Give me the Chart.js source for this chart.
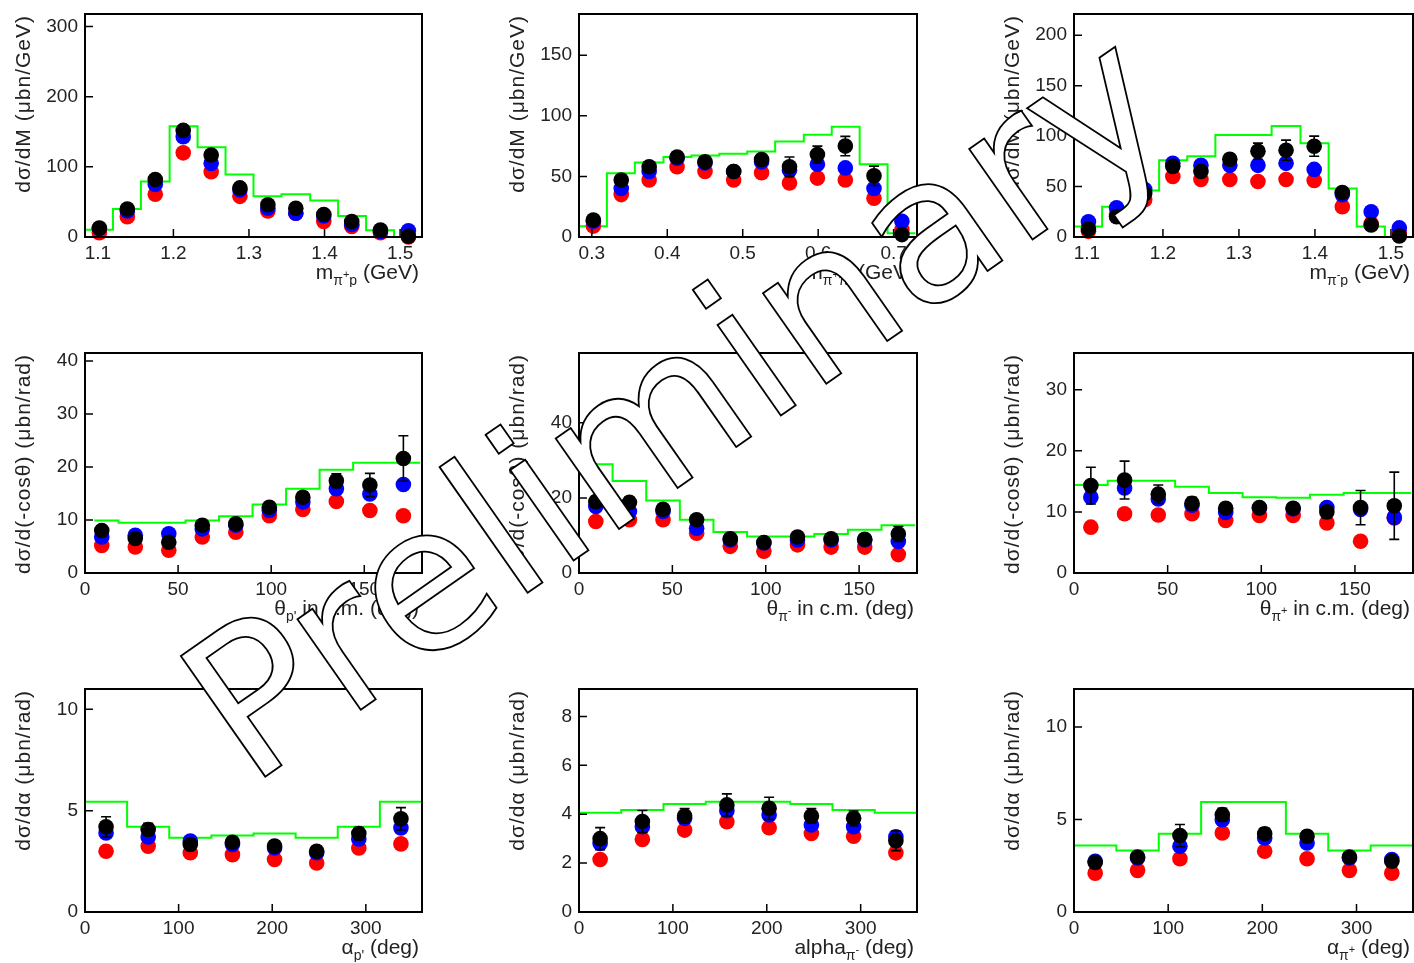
<!DOCTYPE html>
<html>
<head>
<meta charset="utf-8">
<script src="https://cdn.jsdelivr.net/npm/chart.js@4.4.1/dist/chart.umd.min.js"></script>
<style>
  html, body { margin: 0; padding: 0; background: #fff; overflow: hidden; }
  #page { position: relative; width: 1414px; height: 963px; }
  #page canvas { position: absolute; }
  #stamp { position: absolute; left: 0; top: 0; pointer-events: none; }
</style>
</head>
<body>
<div id="page"></div>
<svg id="stamp" width="1414" height="963">
  <text x="249" y="788" transform="rotate(-35 249 788)" font-family="DejaVu Sans, Verdana, sans-serif"
        font-size="202" fill="#fff" stroke="#000" stroke-width="1.8">Preliminary</text>
</svg>
<script>
// ---- binning ----
const massEdges = [1.083, 1.120, 1.157, 1.195, 1.232, 1.269, 1.306, 1.343, 1.381, 1.418, 1.455, 1.492, 1.529];
const massBins  = [1.102, 1.139, 1.176, 1.213, 1.250, 1.288, 1.325, 1.362, 1.399, 1.436, 1.474, 1.511];
const pipiEdges = [0.283, 0.320, 0.357, 0.395, 0.432, 0.469, 0.506, 0.543, 0.581, 0.618, 0.655, 0.692, 0.729];
const pipiBins  = [0.302, 0.339, 0.376, 0.413, 0.450, 0.488, 0.525, 0.562, 0.599, 0.636, 0.674, 0.711];
const thetaEdges = [0, 18, 36, 54, 72, 90, 108, 126, 144, 162, 180];
const thetaEdgesLate = [5, 18, 36, 54, 72, 90, 108, 126, 144, 162, 180]; // curve drawn from 5 deg
const thetaBins  = [9, 27, 45, 63, 81, 99, 117, 135, 153, 171];
const alphaEdges = [0, 45, 90, 135, 180, 225, 270, 315, 360];
const alphaBins  = [22.5, 67.5, 112.5, 157.5, 202.5, 247.5, 292.5, 337.5];

// ---- m(pi+ p) ----
const mPipP_sim   = [10.4, 40, 79, 158, 128, 89, 58, 61, 52, 30, 9.5, 0];
const mPipP_red   = [6, 29, 61, 120, 93, 58, 37, 34, 22, 15, 6, 0];
const mPipP_blue  = [12, 37, 75, 143, 105, 67, 41, 34, 30, 18, 8, 9];
const mPipP_black = [12.8, 40, 82, 152, 117, 70, 46, 41, 32, 22, 10, 1];
const mPipP_err   = [4, 4, 5, 7, 6, 5, 4, 4, 4, 3, 3, 2];

// ---- m(pi+ pi-) ----
const mPiPi_sim   = [8.8, 52.7, 61.5, 66, 67.3, 68.7, 70.6, 78.8, 84.3, 91, 60, 3];
const mPiPi_red   = [9, 35, 47, 58, 54, 47, 53, 44.5, 48.6, 47, 32, 6];
const mPiPi_blue  = [13, 40, 54, 65, 61, 54, 62, 55, 60, 57, 40, 13];
const mPiPi_black = [14, 47, 58, 66, 62, 54, 64, 58, 68, 75, 50.5, 2];
const mPiPi_err   = [3, 3, 3, 3, 3, 3, 4, 8, 7, 8, 8, 3];

// ---- m(pi- p) ----
const mPimP_sim   = [10.5, 30, 46, 76, 80, 101, 101, 110, 93, 48, 10.5, 0];
const mPimP_red   = [5.6, 22, 37, 60, 57, 57, 55, 57, 56, 30, 13, 4];
const mPimP_blue  = [15, 29, 47, 73, 71, 71, 71, 73, 67, 42, 25, 9];
const mPimP_black = [8, 20, 43, 70, 65, 77, 85, 86, 90, 44, 12, 1];
const mPimP_err   = [3, 3, 4, 5, 5, 5, 8, 10, 10, 5, 3, 2];

// ---- theta p' ----
const thP_sim   = [9.9, 9.5, 9.5, 9.9, 10.7, 12.9, 15.9, 19.5, 20.8, 20.8];
const thP_red   = [5.2, 4.9, 4.3, 6.8, 7.7, 10.8, 12, 13.5, 11.8, 10.8];
const thP_blue  = [6.8, 7.1, 7.4, 8.3, 9, 11.8, 13.4, 15.9, 14.9, 16.7];
const thP_black = [8, 6.5, 5.8, 9, 9.3, 12.4, 14.3, 17.4, 16.6, 21.6];
const thP_err   = [0.8, 0.8, 0.8, 0.8, 0.8, 0.9, 1, 1.3, 2.2, 4.3];

// ---- theta pi- ----
const thPim_sim   = [29, 24.5, 19.3, 14.2, 10.9, 9.7, 9.7, 10.4, 11.5, 12.7];
const thPim_red   = [13.7, 14.2, 14.2, 10.6, 7.1, 5.8, 7.5, 6.9, 6.9, 4.9];
const thPim_blue  = [17.7, 16.4, 16.4, 11.9, 8.8, 8, 8.8, 8.8, 8.8, 8.4];
const thPim_black = [19, 18.8, 17, 14.2, 9.1, 8.1, 9.6, 9.1, 9, 10.4];
const thPim_err   = [1.5, 1.5, 1.2, 1, 0.8, 0.8, 0.8, 0.8, 0.9, 2];

// ---- theta pi+ ----
const thPip_sim   = [14.4, 15.1, 15.1, 14.1, 13.1, 12.4, 12.3, 12.8, 13.1, 13.1];
const thPip_red   = [7.5, 9.7, 9.5, 9.7, 8.6, 9.4, 9.4, 8.2, 5.2, 9];
const thPip_blue  = [12.4, 13.9, 12.1, 11.1, 9.9, 10.6, 10.5, 10.7, 10.4, 9.1];
const thPip_black = [14.3, 15.2, 12.9, 11.4, 10.6, 10.7, 10.6, 10, 10.7, 11];
const thPip_err   = [3, 3.1, 1.5, 1, 0.8, 0.8, 0.8, 1, 2.8, 5.5];

// ---- alpha p' ----
const alP_sim   = [5.44, 4.2, 3.66, 3.77, 3.87, 3.66, 4.2, 5.44];
const alP_red   = [3.0, 3.25, 2.92, 2.83, 2.59, 2.42, 3.16, 3.36];
const alP_blue  = [3.9, 3.7, 3.5, 3.33, 3.16, 2.92, 3.6, 4.15];
const alP_black = [4.2, 4.07, 3.33, 3.44, 3.25, 3.0, 3.87, 4.6];
const alP_err   = [0.5, 0.3, 0.25, 0.25, 0.25, 0.25, 0.3, 0.55];

// ---- alpha pi- ----
const alPim_sim   = [4.06, 4.17, 4.42, 4.51, 4.51, 4.42, 4.17, 4.06];
const alPim_red   = [2.15, 2.97, 3.35, 3.69, 3.45, 3.21, 3.1, 2.42];
const alPim_blue  = [2.8, 3.49, 3.83, 4.14, 3.97, 3.56, 3.49, 3.08];
const alPim_black = [3.0, 3.7, 3.93, 4.38, 4.24, 3.93, 3.83, 2.91];
const alPim_err   = [0.45, 0.45, 0.3, 0.45, 0.45, 0.3, 0.3, 0.4];

// ---- alpha pi+ ----
const alPip_sim   = [3.59, 3.32, 4.23, 5.95, 5.95, 4.23, 3.32, 3.59];
const alPip_red   = [2.1, 2.25, 2.88, 4.27, 3.28, 2.88, 2.25, 2.1];
const alPip_blue  = [2.74, 2.92, 3.55, 4.99, 4.0, 3.73, 2.92, 2.83];
const alPip_black = [2.68, 2.97, 4.13, 5.26, 4.23, 4.09, 2.97, 2.74];
const alPip_err   = [0.3, 0.25, 0.6, 0.35, 0.3, 0.3, 0.25, 0.3];

// frame boxes of the 3x3 grid (px)
const colLeft  = [85, 579, 1074];
const colRight = [422, 917, 1413];
const rowTop    = [14, 353, 689];
const rowBottom = [237, 573, 912];

const FONT = 'Liberation Sans, Arial, Helvetica, sans-serif';
Chart.defaults.font.family = FONT;

const panels = [
  { col: 0, row: 0, edges: massEdges, bins: massBins, sim: mPipP_sim, red: mPipP_red, blue: mPipP_blue, black: mPipP_black, err: mPipP_err,
    xMin: 1.083, xMax: 1.529, xStep: 0.1, yMax: 318, yStep: 100,
    yTitle: 'dσ/dM (μbn/GeV)', xTitle: [['m', 0], ['π', 1], ['+', 2], ['p', 1], [' (GeV)', 0]] },
  { col: 1, row: 0, edges: pipiEdges, bins: pipiBins, sim: mPiPi_sim, red: mPiPi_red, blue: mPiPi_blue, black: mPiPi_black, err: mPiPi_err,
    xMin: 0.283, xMax: 0.731, xStep: 0.1, yMax: 184, yStep: 50,
    yTitle: 'dσ/dM (μbn/GeV)', xTitle: [['m', 0], ['π', 1], ['+', 2], ['π', 1], ['-', 2], [' (GeV)', 0]] },
  { col: 2, row: 0, edges: massEdges, bins: massBins, sim: mPimP_sim, red: mPimP_red, blue: mPimP_blue, black: mPimP_black, err: mPimP_err,
    xMin: 1.083, xMax: 1.529, xStep: 0.1, yMax: 221, yStep: 50,
    yTitle: 'dσ/dM (μbn/GeV)', xTitle: [['m', 0], ['π', 1], ['-', 2], ['p', 1], [' (GeV)', 0]] },
  { col: 0, row: 1, edges: thetaEdgesLate, bins: thetaBins, sim: thP_sim, red: thP_red, blue: thP_blue, black: thP_black, err: thP_err,
    xMin: 0, xMax: 181, xStep: 50, yMax: 41.5, yStep: 10,
    yTitle: 'dσ/d(-cosθ) (μbn/rad)', xTitle: [['θ', 0], ["p'", 1], [' in c.m. (deg)', 0]] },
  { col: 1, row: 1, edges: thetaEdgesLate, bins: thetaBins, sim: thPim_sim, red: thPim_red, blue: thPim_blue, black: thPim_black, err: thPim_err,
    xMin: 0, xMax: 181, xStep: 50, yMax: 58.6, yStep: 20,
    yTitle: 'dσ/d(-cosθ) (μbn/rad)', xTitle: [['θ', 0], ['π', 1], ['-', 2], [' in c.m. (deg)', 0]] },
  { col: 2, row: 1, edges: thetaEdges, bins: thetaBins, sim: thPip_sim, red: thPip_red, blue: thPip_blue, black: thPip_black, err: thPip_err,
    xMin: 0, xMax: 181, xStep: 50, yMax: 36, yStep: 10,
    yTitle: 'dσ/d(-cosθ) (μbn/rad)', xTitle: [['θ', 0], ['π', 1], ['+', 2], [' in c.m. (deg)', 0]] },
  { col: 0, row: 2, edges: alphaEdges, bins: alphaBins, sim: alP_sim, red: alP_red, blue: alP_blue, black: alP_black, err: alP_err,
    xMin: 0, xMax: 360, xStep: 100, yMax: 11.0, yStep: 5,
    yTitle: 'dσ/dα (μbn/rad)', xTitle: [['α', 0], ["p'", 1], [' (deg)', 0]] },
  { col: 1, row: 2, edges: alphaEdges, bins: alphaBins, sim: alPim_sim, red: alPim_red, blue: alPim_blue, black: alPim_black, err: alPim_err,
    xMin: 0, xMax: 360, xStep: 100, yMax: 9.12, yStep: 2,
    yTitle: 'dσ/dα (μbn/rad)', xTitle: [['alpha', 0], ['π', 1], ['-', 2], [' (deg)', 0]] },
  { col: 2, row: 2, edges: alphaEdges, bins: alphaBins, sim: alPip_sim, red: alPip_red, blue: alPip_blue, black: alPip_black, err: alPip_err,
    xMin: 0, xMax: 360, xStep: 100, yMax: 12.05, yStep: 5,
    yTitle: 'dσ/dα (μbn/rad)', xTitle: [['α', 0], ['π', 1], ['+', 2], [' (deg)', 0]] }
];

const Y_AXIS_W = 85, X_AXIS_H = 50, PAD_TOP = 14, PAD_RIGHT = 2;
const segFont = [21, 14, 11];
const segDy = [0, 6, -1];

// frame, inner ticks, error bars and axis titles in ROOT style
function rootPlugin(p) {
  return {
    id: 'rootStyle',
    afterDatasetsDraw(chart) {
      const ctx = chart.ctx, xs = chart.scales.x, ys = chart.scales.y;
      ctx.save();
      ctx.strokeStyle = '#000';
      ctx.lineWidth = 1.6;
      p.bins.forEach((b, i) => {
        const x = xs.getPixelForValue(b);
        const y1 = ys.getPixelForValue(p.black[i] + p.err[i]);
        const y2 = ys.getPixelForValue(Math.max(0, p.black[i] - p.err[i]));
        ctx.beginPath();
        ctx.moveTo(x, y1); ctx.lineTo(x, y2);
        ctx.moveTo(x - 5, y1); ctx.lineTo(x + 5, y1);
        ctx.moveTo(x - 5, y2); ctx.lineTo(x + 5, y2);
        ctx.stroke();
      });
      ctx.restore();
    },
    afterDraw(chart) {
      const ctx = chart.ctx, a = chart.chartArea, xs = chart.scales.x, ys = chart.scales.y;
      ctx.save();
      ctx.strokeStyle = '#000';
      ctx.lineWidth = 2;
      ctx.strokeRect(a.left, a.top, a.right - a.left, a.bottom - a.top);
      ctx.lineWidth = 1.5;
      ctx.beginPath();
      xs.ticks.forEach(t => {
        const x = xs.getPixelForValue(t.value);
        ctx.moveTo(x, a.bottom); ctx.lineTo(x, a.bottom - 8);
      });
      ys.ticks.forEach(t => {
        const y = ys.getPixelForValue(t.value);
        ctx.moveTo(a.left, y); ctx.lineTo(a.left + 8, y);
      });
      ctx.stroke();

      // y title, rotated, flush with the top of the frame
      ctx.fillStyle = '#222';
      ctx.font = '21px ' + FONT;
      ctx.letterSpacing = '1px';
      ctx.translate(24, a.top + 1);
      ctx.rotate(-Math.PI / 2);
      ctx.textAlign = 'right';
      ctx.textBaseline = 'middle';
      ctx.fillText(p.yTitle, 0, 0);
      ctx.setTransform(1, 0, 0, 1, 0, 0);
      ctx.letterSpacing = '0px';

      // x title with sub/superscripts, flush right
      ctx.textAlign = 'left';
      ctx.textBaseline = 'alphabetic';
      let total = 0;
      const widths = p.xTitle.map(([s, m]) => {
        ctx.font = segFont[m] + 'px ' + FONT;
        const w = ctx.measureText(s).width;
        total += w;
        return w;
      });
      let x = a.right - 3 - total;
      const base = a.bottom + 42;
      p.xTitle.forEach(([s, m], i) => {
        ctx.font = segFont[m] + 'px ' + FONT;
        ctx.fillText(s, x, base + segDy[m]);
        x += widths[i];
      });
      ctx.restore();
    }
  };
}

const page = document.getElementById('page');
const fmt = v => String(Math.round(v * 100) / 100);

panels.forEach(p => {
  const left = colLeft[p.col] - Y_AXIS_W;
  const top = rowTop[p.row] - PAD_TOP;
  const w = colRight[p.col] - left + PAD_RIGHT;
  const h = rowBottom[p.row] - top + X_AXIS_H;
  const cv = document.createElement('canvas');
  cv.width = w; cv.height = h;
  cv.style.left = left + 'px'; cv.style.top = top + 'px';
  cv.style.width = w + 'px'; cv.style.height = h + 'px';
  page.appendChild(cv);

  const step = p.edges.map((e, i) => ({ x: e, y: p.sim[Math.min(i, p.sim.length - 1)] }));
  const pts = arr => p.bins.map((b, i) => ({ x: b, y: arr[i] }));

  new Chart(cv.getContext('2d'), {
    type: 'scatter',
    data: {
      datasets: [
        { type: 'line', data: step, stepped: 'before', showLine: true, borderColor: '#00ff00',
          borderWidth: 2, pointRadius: 0, fill: false, order: 3 },
        { data: pts(p.red), backgroundColor: '#ff0000', pointRadius: 7.8, borderWidth: 0, clip: false, order: 2 },
        { data: pts(p.blue), backgroundColor: '#0000ff', pointRadius: 7.8, borderWidth: 0, clip: false, order: 1 },
        { data: pts(p.black), backgroundColor: '#000000', pointRadius: 7.8, borderWidth: 0, clip: false, order: 0 }
      ]
    },
    options: {
      responsive: false,
      animation: false,
      devicePixelRatio: 1,
      events: [],
      layout: { autoPadding: false, padding: { top: PAD_TOP, right: PAD_RIGHT, left: 0, bottom: 0 } },
      plugins: { legend: { display: false }, tooltip: { enabled: false } },
      scales: {
        x: {
          type: 'linear', min: p.xMin, max: p.xMax,
          grid: { display: false, drawTicks: false }, border: { display: false },
          ticks: { stepSize: p.xStep, includeBounds: false, autoSkip: false, maxRotation: 0,
                   padding: 5, color: '#222', font: { size: 19 }, callback: fmt },
          afterFit: s => { s.height = X_AXIS_H; s.paddingLeft = 0; s.paddingRight = 0; }
        },
        y: {
          type: 'linear', min: 0, max: p.yMax,
          grid: { display: false, drawTicks: false }, border: { display: false },
          ticks: { stepSize: p.yStep, includeBounds: false, autoSkip: false,
                   padding: 7, color: '#222', font: { size: 19 }, callback: fmt },
          afterFit: s => { s.width = Y_AXIS_W; s.paddingTop = 0; s.paddingBottom = 0; }
        }
      }
    },
    plugins: [rootPlugin(p)]
  });
});
</script>
</body>
</html>
